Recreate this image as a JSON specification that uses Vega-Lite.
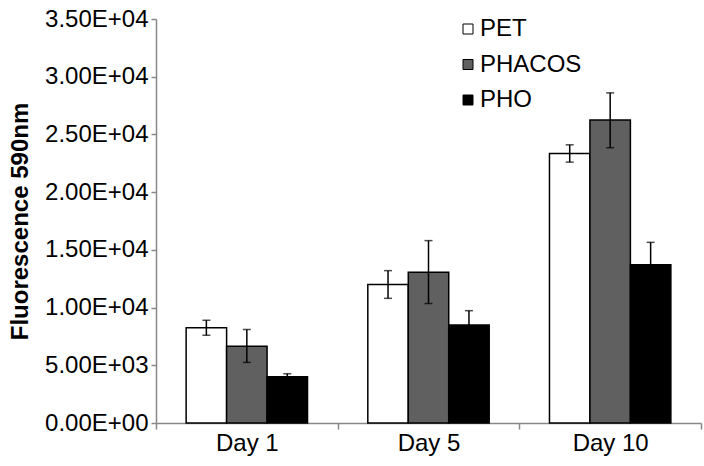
{
  "$schema": "https://vega.github.io/schema/vega-lite/v6.json",
  "width": 545,
  "height": 404,
  "autosize": {"type": "none"},
  "padding": {"left": 156, "top": 19, "right": 3, "bottom": 43},
  "background": "white",
  "config": {
    "view": {"stroke": null},
    "font": "Liberation Sans",
    "axis": {"grid": false}
  },
  "data": {
    "values": [
      {"day": "Day 1", "material": "PET", "value": 8250, "lo": 7600, "hi": 8900},
      {"day": "Day 1", "material": "PHACOS", "value": 6650, "lo": 5250, "hi": 8100},
      {"day": "Day 1", "material": "PHO", "value": 4000, "lo": 3700, "hi": 4270},
      {"day": "Day 5", "material": "PET", "value": 12000, "lo": 10800, "hi": 13200},
      {"day": "Day 5", "material": "PHACOS", "value": 13050, "lo": 10350, "hi": 15800},
      {"day": "Day 5", "material": "PHO", "value": 8490, "lo": 7250, "hi": 9730},
      {"day": "Day 10", "material": "PET", "value": 23350, "lo": 22600, "hi": 24100},
      {"day": "Day 10", "material": "PHACOS", "value": 26250, "lo": 23850, "hi": 28600},
      {"day": "Day 10", "material": "PHO", "value": 13700, "lo": 11750, "hi": 15650}
    ]
  },
  "encoding": {
    "x": {
      "field": "day",
      "type": "nominal",
      "sort": ["Day 1", "Day 5", "Day 10"],
      "scale": {"paddingInner": 0, "paddingOuter": 0},
      "axis": {
        "title": null,
        "labelAngle": 0,
        "labelFontSize": 24,
        "labelColor": "black",
        "tickBand": "extent",
        "tickSize": 6,
        "tickColor": "#888888",
        "tickWidth": 1.5,
        "domainColor": "#888888",
        "domainWidth": 1.5,
        "labelPadding": 2
      }
    },
    "xOffset": {
      "field": "material",
      "type": "nominal",
      "sort": ["PET", "PHACOS", "PHO"],
      "scale": {"paddingInner": 0, "paddingOuter": 0.745}
    }
  },
  "layer": [
    {
      "mark": {"type": "bar", "stroke": "black", "strokeWidth": 1.5},
      "encoding": {
        "y": {
          "field": "value",
          "type": "quantitative",
          "scale": {"domain": [0, 35000]},
          "axis": {
            "title": "Fluorescence 590nm",
            "titleFontSize": 24,
            "titleFontWeight": "bold",
            "titleColor": "black",
            "titlePadding": 12,
            "labelFontSize": 24,
            "labelColor": "black",
            "labelPadding": 3,
            "tickSize": 5,
            "tickColor": "#888888",
            "tickWidth": 1.5,
            "domainColor": "#888888",
            "domainWidth": 1.5,
            "values": [0, 5000, 10000, 15000, 20000, 25000, 30000, 35000],
            "labelExpr": "datum.value == 0 ? '0.00E+00' : (datum.value < 10000 ? format(datum.value / 1000, '.2f') + 'E+03' : format(datum.value / 10000, '.2f') + 'E+04')"
          }
        },
        "fill": {
          "field": "material",
          "type": "nominal",
          "sort": ["PET", "PHACOS", "PHO"],
          "scale": {"domain": ["PET", "PHACOS", "PHO"], "range": ["#ffffff", "#606060", "#000000"]},
          "legend": {
            "title": null,
            "orient": "none",
            "legendX": 300,
            "legendY": -2,
            "padding": 0,
            "symbolType": "square",
            "symbolSize": 100,
            "symbolStrokeColor": "black",
            "symbolStrokeWidth": 1,
            "symbolOpacity": 1,
            "labelFontSize": 24,
            "labelColor": "black",
            "labelOffset": 0,
            "rowPadding": 11.5
          }
        }
      }
    },
    {
      "mark": {"type": "rule", "color": "black", "strokeWidth": 1.5},
      "encoding": {
        "y": {"field": "lo", "type": "quantitative"},
        "y2": {"field": "hi"}
      }
    },
    {
      "mark": {"type": "tick", "color": "black", "size": 8, "thickness": 1.5},
      "encoding": {"y": {"field": "lo", "type": "quantitative"}}
    },
    {
      "mark": {"type": "tick", "color": "black", "size": 8, "thickness": 1.5},
      "encoding": {"y": {"field": "hi", "type": "quantitative"}}
    }
  ]
}
